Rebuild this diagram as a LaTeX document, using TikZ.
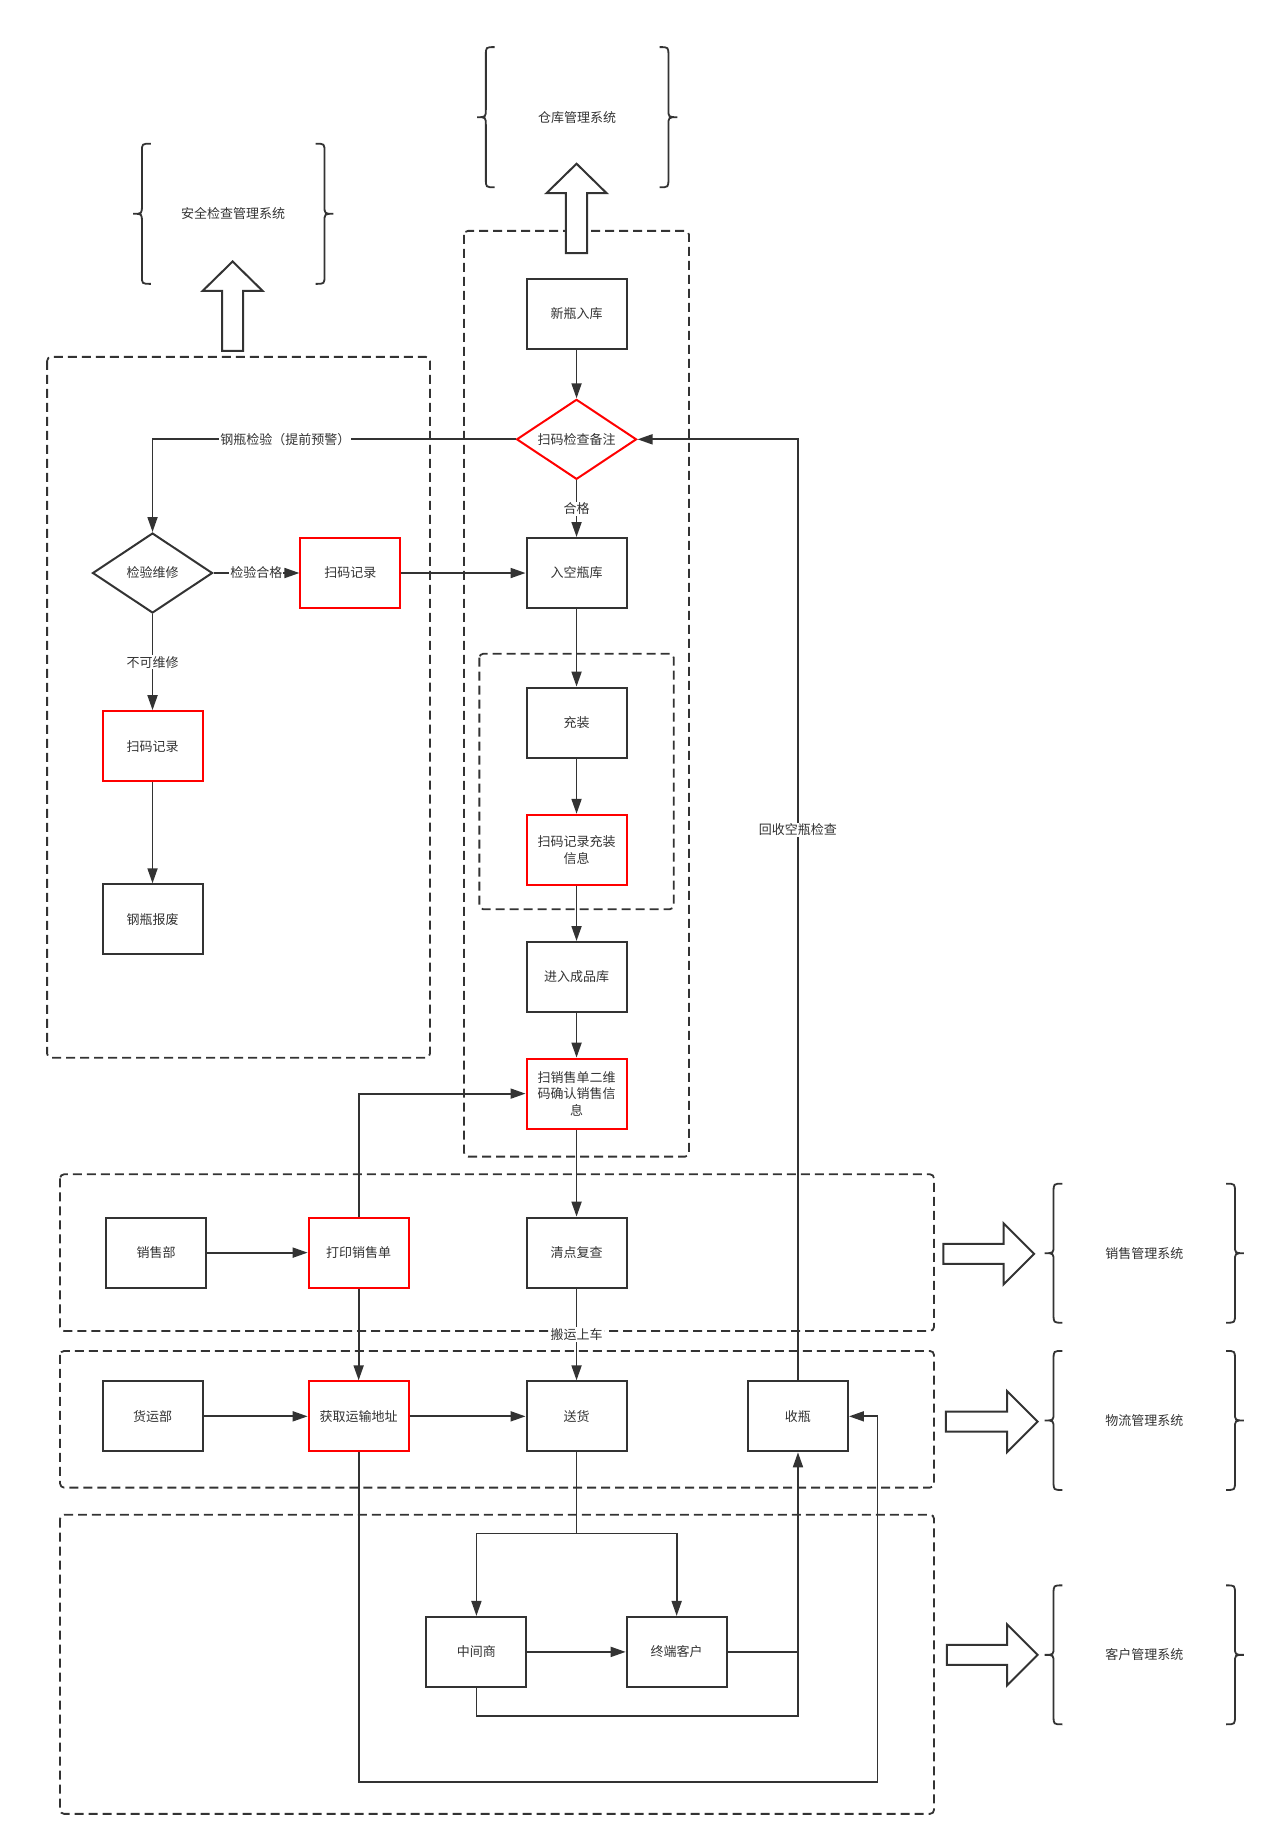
\documentclass[tikz,border=0pt]{standalone}
\usepackage{fontspec}
\newfontfamily\cjk{Noto Sans CJK SC}
\usetikzlibrary{arrows.meta,shapes.geometric}
\definecolor{ink}{HTML}{333333}
\definecolor{alert}{HTML}{FF0000}
\tikzset{
  box/.style={draw=ink,line width=2pt,minimum width=100pt,minimum height=70pt,inner sep=2pt,align=center,text=ink},
  redbox/.style={box,draw=alert},
  choice/.style={diamond,draw=ink,line width=2pt,minimum width=120pt,minimum height=80pt,inner sep=0pt,aspect=1.5,text=ink},
  redchoice/.style={choice,draw=alert},
  lbl/.style={fill=white,inner sep=1pt,text=ink},
  zone/.style={draw=ink,line width=1.8pt,dash pattern=on 9pt off 5pt,rounded corners=4pt},
  flow/.style={draw=ink,line width=1.8pt,-{Triangle[length=15pt,width=10pt]}},
  sysarrow/.style={draw=ink,line width=2pt,fill=white},
  sysbrace/.style={draw=ink,line width=1.8pt}
}
\begin{document}
\begin{tikzpicture}[x=1.178pt,y=-1.178pt,font={\cjk\fontsize{13pt}{16.5pt}\selectfont}]
  \useasboundingbox (0,0) rectangle (1084,1569);
  % dashed zones
  \draw[zone] (40,303) rectangle (365,898);
  \draw[zone] (394,196) rectangle (585,982);
  \draw[zone] (407,555) rectangle (572,772);
  \draw[zone] (51,997) rectangle (793,1130);
  \draw[zone] (51,1147) rectangle (793,1263);
  \draw[zone] (51,1286) rectangle (793,1540);
  % systems
  \foreach \xl/\xr/\yt/\yb/\sysname [count=\i] in {113/283/122/241/安全检查管理系统,
      405/575/40/159/仓库管理系统, 887/1056/1005/1123/销售管理系统,
      887/1056/1147/1265/物流管理系统, 887/1056/1346/1464/客户管理系统}
  {
    \pgfmathsetmacro\ym{(\yt+\yb)/2}
    \draw[sysbrace] (\xl+15,\yt) .. controls (\xl+7.5,\yt) .. (\xl+7.5,\yt+7)
      -- (\xl+7.5,\ym-7) .. controls (\xl+7.5,\ym) .. (\xl,\ym)
      .. controls (\xl+7.5,\ym) .. (\xl+7.5,\ym+7)
      -- (\xl+7.5,\yb-7) .. controls (\xl+7.5,\yb) .. (\xl+15,\yb);
    \draw[sysbrace] (\xr-15,\yt) .. controls (\xr-7.5,\yt) .. (\xr-7.5,\yt+7)
      -- (\xr-7.5,\ym-7) .. controls (\xr-7.5,\ym) .. (\xr,\ym)
      .. controls (\xr-7.5,\ym) .. (\xr-7.5,\ym+7)
      -- (\xr-7.5,\yb-7) .. controls (\xr-7.5,\yb) .. (\xr-15,\yb);
    \node[text=ink] (sys\i) at ({(\xl+\xr)/2},\ym) {\sysname};
  }
  \foreach \xc/\yt/\yb in {197.5/222/298, 489.5/139/215}
    \draw[sysarrow] (\xc-9,\yb) -- (\xc-9,\yt+25) -- (\xc-25.5,\yt+25) -- (\xc,\yt)
      -- (\xc+25.5,\yt+25) -- (\xc+9,\yt+25) -- (\xc+9,\yb) -- cycle;
  \foreach \xa/\ya/\xb in {801/1064.5/852, 803/1207/855, 804/1405/855}
    \draw[sysarrow] (\xa,\ya-8.5) -- (\xb,\ya-8.5) -- (\xb,\ya-26) -- (\xb+26,\ya)
      -- (\xb,\ya+26) -- (\xb,\ya+8.5) -- (\xa,\ya+8.5) -- cycle;
  % nodes
  \draw
    (489.5,266.5) node[box] (newin){新瓶入库}
    (489.5,373) node[redchoice] (scan){扫码检查备注}
    (489.5,486.5) node[box] (empty){入空瓶库}
    (129.5,486.5) node[choice] (repair){检验维修}
    (297.5,486.5) node[redbox] (recA){扫码记录}
    (129.5,633.5) node[redbox] (recB){扫码记录}
    (129.5,780.5) node[box] (scrap){钢瓶报废}
    (489.5,613.5) node[box] (fill){充装}
    (489.5,721.5) node[redbox] (fillrec){扫码记录充装\\信息}
    (489.5,829.5) node[box] (stock){进入成品库}
    (489.5,928.5) node[redbox] (salescan){扫销售单二维\\码确认销售信\\息}
    (132.5,1063.5) node[box] (dept){销售部}
    (304.5,1063.5) node[redbox] (print){打印销售单}
    (489.5,1063.5) node[box] (check){清点复查}
    (129.5,1202.5) node[box] (freight){货运部}
    (304.5,1202.5) node[redbox] (addr){获取运输地址}
    (489.5,1202.5) node[box] (deliver){送货}
    (677.5,1202.5) node[box] (collect){收瓶}
    (404.5,1402.5) node[box] (mid){中间商}
    (574.5,1402.5) node[box] (endc){终端客户};
  \coordinate (split) at (489.5,1302);
  \coordinate (midloop) at (404.5,1457);
  \coordinate (addrloop) at (304.5,1513);
  \coordinate (backloop) at (745,1513);
  \begin{scope}[flow]
    \draw (newin) to (scan);
    \draw (scan.west) -| node[lbl,pos=0.317]{钢瓶检验（提前预警）} (repair.north);
    \draw (scan) to node[lbl]{合格} (empty);
    \draw (collect.north) |- node[lbl,pos=0.2925]{回收空瓶检查} (scan.east);
    \draw (repair) to node[lbl]{检验合格} (recA);
    \draw (recA) to (empty);
    \draw (repair) to node[lbl]{不可维修} (recB);
    \draw (recB) to (scrap);
    \draw (empty) to (fill);
    \draw (fill) to (fillrec);
    \draw (fillrec) to (stock);
    \draw (stock) to (salescan);
    \draw (salescan) to (check);
    \draw (print.north) |- (salescan.west);
    \draw (dept) to (print);
    \draw (print) to (addr);
    \draw (check) to node[lbl]{搬运上车} (deliver);
    \draw (freight) to (addr);
    \draw (addr) to (deliver);
    \draw[-] (deliver) -- (split);
    \draw (split) -| (mid.north);
    \draw (split) -| (endc.north);
    \draw (mid) to (endc);
    \draw[-,line width=1.2pt] (endc.east) -- (endc.east -| collect.south);
    \draw (mid.south) -- (midloop) -| (collect.south);
    \draw (addr.south) -- (addrloop) -- (backloop) |- (collect.east);
  \end{scope}
\end{tikzpicture}
\end{document}
